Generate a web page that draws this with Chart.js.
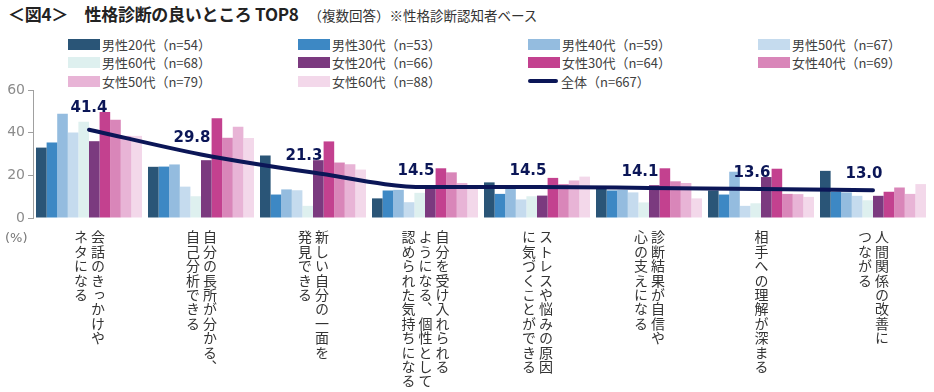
<!DOCTYPE html>
<html lang="ja">
<head>
<meta charset="utf-8">
<script src="https://cdn.jsdelivr.net/npm/chart.js@4.4.1/dist/chart.umd.min.js"></script>
<style>
    html, body { margin: 0; padding: 0; background: #fff; }
    #wrap { position: relative; width: 934px; height: 392px; overflow: hidden; font-family: "Noto Sans CJK JP", "Noto Sans", sans-serif; }
    #topChart { position: absolute; left: 0; top: 0; }
    #title { position: absolute; left: 8px; top: 2px; line-height: 24px; color: #222; white-space: nowrap; }
    #title b { font-size: 17px; font-weight: bold; letter-spacing: -0.3px; }
    #title span { font-size: 13.5px; margin-left: 10px; color: #333; }
    #legend { position: absolute; left: 68px; top: 35px; display: grid; grid-template-columns: repeat(4, 230px); grid-auto-rows: 18.5px; }
    .item { display: flex; align-items: center; font-size: 13px; color: #404040; white-space: nowrap; }
    .swatch { width: 32px; height: 11px; margin-right: 2px; flex: none; }
    .lineSwatch { width: 30px; height: 4px; border-radius: 2px; margin: 0 3px 0 0; flex: none; }
    #unit { position: absolute; left: 5px; top: 230px; font-family: "DejaVu Sans", sans-serif; font-size: 13px; color: #777; }
    .cat { position: absolute; top: 230px; writing-mode: vertical-rl; white-space: pre; font-size: 14px; line-height: 17px; letter-spacing: 0.4px; color: #333; transform: translateX(-50%); }
</style>
</head>
<body>
<div id="wrap">
    <div id="title"><b>＜図4＞　性格診断の良いところ TOP8</b><span>（複数回答）※性格診断認知者ベース</span></div>
    <div id="legend"></div>
    <canvas id="topChart" width="934" height="392"></canvas>
    <div id="unit">(%)</div>
</div>
<script>
// categories (vertical labels, columns read right to left)
var categories = [
    '会話のきっかけや\nネタになる',
    '自分の長所が分かる、\n自己分析できる',
    '新しい自分の一面を\n発見できる',
    '自分を受け入れられる\nようになる、個性として\n認められた気持ちになる',
    'ストレスや悩みの原因\nに気づくことができる',
    '診断結果が自信や\n心の支えになる',
    '相手への理解が深まる',
    '人間関係の改善に\nつながる'
];

var seriesNames = [
    '男性20代（n=54）', '男性30代（n=53）', '男性40代（n=59）', '男性50代（n=67）', '男性60代（n=68）',
    '女性20代（n=66）', '女性30代（n=64）', '女性40代（n=69）', '女性50代（n=79）', '女性60代（n=88）'
];
var totalName = '全体（n=667）';

var men20   = [33.0, 24.0, 29.3,  9.2, 16.7, 13.9, 12.9, 22.1];
var men30   = [35.4, 24.1, 11.0, 12.9, 11.3, 12.9, 11.0, 12.3];
var men40   = [48.9, 25.1, 13.4, 13.2, 13.7, 13.2, 21.7, 12.0];
var men50   = [40.1, 14.7, 13.0,  7.4,  8.7, 12.0,  5.7, 10.4];
var men60   = [45.1, 10.2,  5.7, 11.8, 10.2,  7.3,  6.9,  8.3];
var women20 = [36.0, 27.1, 27.1, 14.2, 10.5, 15.4, 19.2, 10.4];
var women30 = [49.7, 46.7, 35.9, 23.3, 18.8, 23.3, 23.1, 12.3];
var women40 = [46.1, 37.6, 26.0, 21.4, 15.9, 17.2, 11.3, 14.3];
var women50 = [38.5, 42.8, 25.2, 16.4, 17.6, 16.4, 11.2, 11.3];
var women60 = [38.5, 37.5, 22.7, 15.0, 19.4,  9.2,  9.9, 15.9];
var total   = [41.4, 29.8, 21.3, 14.5, 14.5, 14.1, 13.6, 13.0];

var yTicks = [0, 20, 40, 60];

var seriesValues = [men20, men30, men40, men50, men60, women20, women30, women40, women50, women60];
var barColors = ['#2a5577', '#3d88c4', '#94bcdf', '#c5dbee', '#def0ef', '#7b3a7f', '#c3418f', '#d986b9', '#e8b4d6', '#f3d8ea'];
var lineColor = '#0b1657';

// draws the 全体 values above the line
var lineLabels = {
    id: 'lineLabels',
    afterDatasetsDraw: function (chart) {
        var ctx = chart.ctx;
        var idx = chart.data.datasets.length - 1;
        var meta = chart.getDatasetMeta(idx);
        ctx.save();
        ctx.font = 'bold 15px "DejaVu Sans", sans-serif';
        ctx.fillStyle = lineColor;
        ctx.textAlign = 'center';
        ctx.textBaseline = 'middle';
        meta.data.forEach(function (pt, i) {
            var dx = i === 0 ? 0 : -9;
            var dy = i === 0 ? -22 : -16;
            ctx.fillText(total[i].toFixed(1), pt.x + dx, pt.y + dy);
        });
        ctx.restore();
    }
};

document.addEventListener('DOMContentLoaded', function () {
    var datasets = seriesValues.map(function (vals, i) {
        return {
            type: 'bar',
            label: seriesNames[i],
            data: vals,
            backgroundColor: barColors[i],
            categoryPercentage: 0.946,
            barPercentage: 1.0,
            order: 1
        };
    });
    datasets.push({
        type: 'line',
        label: totalName,
        data: total,
        borderColor: lineColor,
        borderWidth: 4,
        pointRadius: 0,
        cubicInterpolationMode: 'monotone',
        borderCapStyle: 'round',
        order: 0
    });

    var ctx = document.getElementById('topChart').getContext('2d');
    var chart = new Chart(ctx, {
        data: { labels: categories, datasets: datasets },
        options: {
            responsive: false,
            animation: false,
            devicePixelRatio: 1,
            layout: { padding: { top: 90, bottom: 174, left: 0, right: 5 } },
            plugins: {
                legend: { display: false },
                tooltip: { enabled: false }
            },
            scales: {
                x: { display: false },
                y: {
                    min: 0,
                    max: 60,
                    afterFit: function (s) { s.width = 33; },
                    afterBuildTicks: function (s) { s.ticks = yTicks.map(function (v) { return { value: v }; }); },
                    border: { color: '#a0a0a0' },
                    grid: { drawOnChartArea: false, drawTicks: true, tickLength: 5, color: '#a0a0a0' },
                    ticks: { color: '#8c8c8c', padding: 3, font: { family: 'DejaVu Sans', size: 14 } }
                }
            }
        },
        plugins: [lineLabels]
    });

    // legend, laid out in 4 columns like the original
    var legend = document.getElementById('legend');
    chart.data.datasets.forEach(function (ds) {
        var item = document.createElement('div');
        item.className = 'item';
        var sw = document.createElement('span');
        if (ds.type === 'line') {
            sw.className = 'lineSwatch';
            sw.style.background = ds.borderColor;
        } else {
            sw.className = 'swatch';
            sw.style.background = ds.backgroundColor;
        }
        item.appendChild(sw);
        item.appendChild(document.createTextNode(ds.label));
        legend.appendChild(item);
    });

    // vertical category labels under each group
    var wrap = document.getElementById('wrap');
    var xScale = chart.scales.x;
    categories.forEach(function (label, i) {
        var div = document.createElement('div');
        div.className = 'cat';
        div.textContent = label;
        div.style.left = xScale.getPixelForValue(i) + 'px';
        wrap.appendChild(div);
    });
});
</script>
</body>
</html>
